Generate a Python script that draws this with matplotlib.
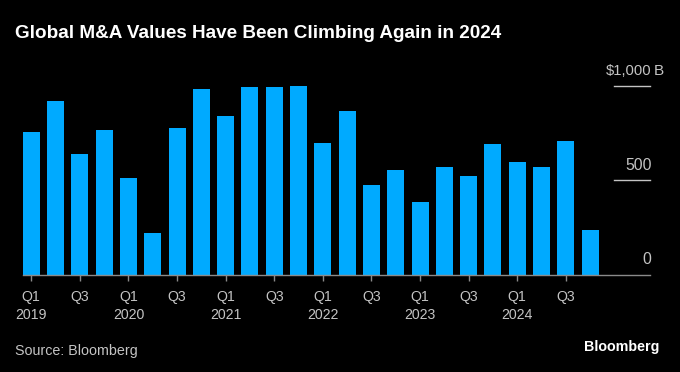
import matplotlib
matplotlib.use("Agg")
import matplotlib.pyplot as plt
import numpy as np

quarters = ["Q1", "Q2", "Q3", "Q4"] * 6
years = [y for y in range(2019, 2025) for _ in range(4)]
values = [752, 920, 638, 763, 511, 220, 777, 981, 837, 994, 994, 999,
          696, 867, 472, 555, 384, 570, 521, 690, 595, 570, 706, 237]
ytick_vals = [0, 500, 1000]
ytick_labels = ["0", "500", "$1,000"]

BG = "#000000"
BAR = "#00aaff"
GRAY = "#c4c4c4"
LINE = "#8a8a8a"

plt.rcParams["font.family"] = ["Liberation Sans", "DejaVu Sans"]

W, H = 680, 372
fig = plt.figure(figsize=(W / 100, H / 100), dpi=100, facecolor=BG)

x0, x1 = 22.7, 650.0
y0, y1 = 274.5, 85.5
ax = fig.add_axes([x0 / W, (H - y0) / H, (x1 - x0) / W, (y0 - y1) / H])
ax.set_facecolor(BG)

x = np.arange(len(values))
ax.bar(x, values, width=0.70, color=BAR, zorder=2)
ax.set_xlim(-0.35, -0.35 + (x1 - x0) / 24.3)
ax.set_ylim(0, 1000)

for s in ["top", "right", "left"]:
    ax.spines[s].set_visible(False)
ax.spines["bottom"].set_color(LINE)
ax.spines["bottom"].set_linewidth(1.0)
ax.spines["bottom"].set_zorder(3)

tick_idx = [i for i, q in enumerate(quarters) if q in ("Q1", "Q3")]
tick_lab = [f"{quarters[i]}\n{years[i]}" if quarters[i] == "Q1" else quarters[i] for i in tick_idx]
ax.set_xticks(tick_idx)
ax.set_xticklabels(tick_lab, color=GRAY, fontsize=10.2, linespacing=1.3, va="top")
ax.tick_params(axis="x", length=4, width=1, color=LINE, pad=7.5)
ax.set_yticks([])

# right-side short gridlines and labels
gx0 = (614 - x0) / (x1 - x0)
for v, lab in zip(ytick_vals, ytick_labels):
    if v > 0:
        ax.plot([gx0, 1.0], [v, v], transform=ax.get_yaxis_transform(),
                color=GRAY, lw=1.0, clip_on=False, zorder=1)
    fs = 10.6 if v == 1000 else 11.3
    ax.annotate(lab, xy=(1.0, v), xycoords=ax.get_yaxis_transform(),
                xytext=(1.7, 14.5), textcoords="offset pixels",
                ha="right", va="center", color=GRAY, fontsize=fs)
ax.annotate("B", xy=(1.0, 1000), xycoords=ax.get_yaxis_transform(),
            xytext=(3.8, 14.5), textcoords="offset pixels",
            ha="left", va="center", color=GRAY, fontsize=11)

fig.text(15 / W, 1 - 33 / H, "Global M&A Values Have Been Climbing Again in 2024",
         color="white", fontsize=13.6, fontweight="bold", ha="left", va="center")
fig.text(15 / W, 1 - 351 / H, "Source: Bloomberg", color=GRAY, fontsize=10.3,
         ha="left", va="center")
fig.text(659 / W, 1 - 347.5 / H, "Bloomberg", color="white", fontsize=10.3,
         fontweight="bold", ha="right", va="center")

fig.savefig("out.png", dpi=100, facecolor=BG)
